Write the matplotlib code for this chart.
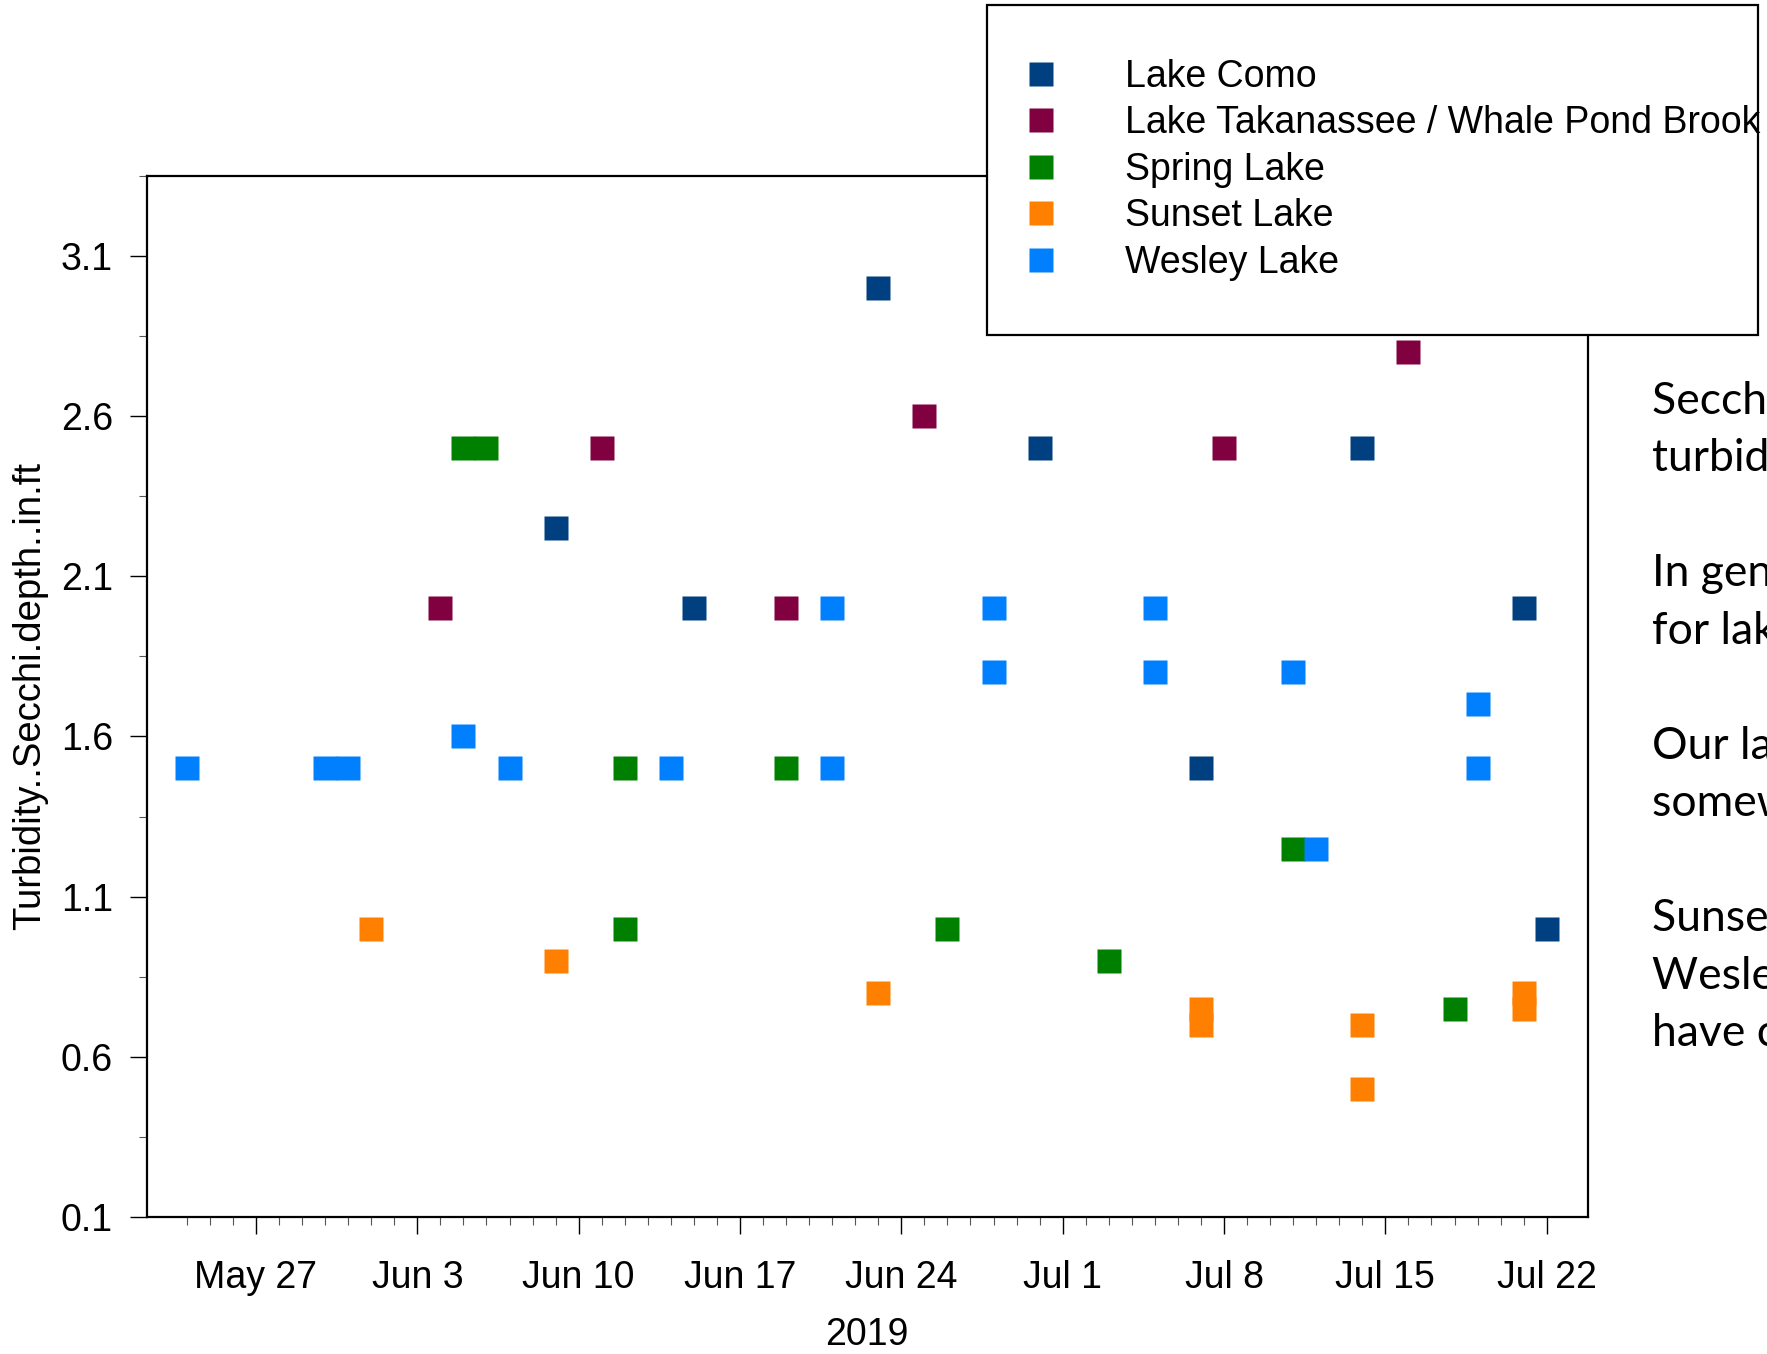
import datetime as dt
import numpy as np
import pandas as pd
import matplotlib
matplotlib.use("Agg")
import matplotlib.pyplot as plt
import matplotlib.dates as mdates
from matplotlib.ticker import MultipleLocator, FixedLocator, FuncFormatter
from matplotlib.lines import Line2D

plt.rcParams['font.family'] = ['Liberation Sans', 'DejaVu Sans']

# Secchi depth readings (ft), 2019
como_dates = ["2019-06-09", "2019-06-15", "2019-06-23", "2019-06-30", "2019-07-07",
              "2019-07-14", "2019-07-21", "2019-07-22"]
como_vals = [2.25, 2.0, 3.0, 2.5, 1.5, 2.5, 2.0, 1.0]

tak_dates = ["2019-06-04", "2019-06-11", "2019-06-19", "2019-06-25", "2019-07-08",
             "2019-07-16"]
tak_vals = [2.0, 2.5, 2.0, 2.6, 2.5, 2.8]

spring_dates = ["2019-06-05", "2019-06-06", "2019-06-12", "2019-06-12", "2019-06-19",
                "2019-06-26", "2019-07-03", "2019-07-11", "2019-07-18"]
spring_vals = [2.5, 2.5, 1.5, 1.0, 1.5, 1.0, 0.9, 1.25, 0.75]

sunset_dates = ["2019-06-01", "2019-06-09", "2019-06-23", "2019-07-07", "2019-07-07",
                "2019-07-14", "2019-07-14", "2019-07-21", "2019-07-21"]
sunset_vals = [1.0, 0.9, 0.8, 0.75, 0.7, 0.7, 0.5, 0.8, 0.75]

wesley_dates = ["2019-05-24", "2019-05-30", "2019-05-31", "2019-06-05", "2019-06-07",
                "2019-06-14", "2019-06-21", "2019-06-21", "2019-06-28", "2019-06-28",
                "2019-07-05", "2019-07-05", "2019-07-11", "2019-07-12", "2019-07-19",
                "2019-07-19"]
wesley_vals = [1.5, 1.5, 1.5, 1.6, 1.5, 1.5, 2.0, 1.5, 2.0, 1.8, 2.0, 1.8, 1.8, 1.25,
               1.7, 1.5]

lake_names = ["Lake Como", "Lake Takanassee / Whale Pond Brook", "Spring Lake",
              "Sunset Lake", "Wesley Lake"]
lake_colors = ["#004080", "#800040", "#008000", "#FF8000", "#0080FF"]

notes = ["Secchi depth is an indicator of",
         "turbidity (water clarity).",
         "",
         "In general, a Secchi depth of 3 ft or more",
         "for lakes indicates good clarity.",
         "",
         "Our lakes range from fairly clear to",
         "somewhat turbid.",
         "",
         "Sunset Lake and",
         "Wesley Lake tend to",
         "have cloudier water."]

W, H = 1767, 1354
fig = plt.figure(figsize=(W / 100, H / 100), dpi=100)
ax = fig.add_axes([146.5 / W, 1 - 1217 / H, 1441.5 / W, (1217 - 175.8) / H])

series = [(como_dates, como_vals), (tak_dates, tak_vals), (spring_dates, spring_vals),
          (sunset_dates, sunset_vals), (wesley_dates, wesley_vals)]
all_dates = []
for (d, v), c in zip(series, lake_colors):
    d = pd.to_datetime(d)
    all_dates.extend(d)
    ax.plot(d, v, ls="none", marker="s", ms=17.3, mfc=c, mec="none")

ax.set_xlim(dt.datetime(2019, 5, 22, 6), dt.datetime(2019, 7, 23, 19))
ax.set_ylim(0.1, 3.35)

ax.xaxis.set_major_locator(mdates.WeekdayLocator(byweekday=mdates.MO))
ax.xaxis.set_major_formatter(FuncFormatter(lambda x, p: f"{mdates.num2date(x):%b} {mdates.num2date(x).day}"))
days = pd.date_range(min(all_dates), max(all_dates), freq="D")
ax.xaxis.set_minor_locator(FixedLocator(mdates.date2num(days.to_pydatetime())))

ax.yaxis.set_major_locator(MultipleLocator(0.5, offset=0.1))
ax.yaxis.set_minor_locator(MultipleLocator(0.25, offset=0.1))
ax.yaxis.set_major_formatter(FuncFormatter(lambda y, p: f"{y:.1f}"))

ax.tick_params(which="major", direction="out", length=12.2, width=1, labelsize=27, pad=12)
ax.tick_params(which="minor", direction="out", length=5.8, width=0.8, color="#555555")
ax.tick_params(axis="x", which="major", pad=19)
for s in ax.spines.values():
    s.set_linewidth(1.6)

ax.set_xlabel("2019", fontsize=27, labelpad=15)
ax.set_ylabel("Turbidity..Secchi.depth..in.ft", fontsize=27.5, labelpad=9)

handles = [Line2D([], [], ls="none", marker="s", ms=17.3, mfc=c, mec="none") for c in lake_colors]
leg = fig.legend(handles, lake_names, loc="upper left",
                 bbox_to_anchor=(987 / W, 0, 771 / W, 1 - 4.5 / H), mode="expand",
                 borderaxespad=0, fontsize=27, frameon=True, fancybox=False,
                 framealpha=1, edgecolor="black", borderpad=1.45, labelspacing=0.28,
                 handlelength=0.0, handletextpad=2.22)
leg.get_frame().set_linewidth(1.6)

for i, line in enumerate(notes):
    y = 413.6 + i * 57.5
    fig.text(1652 / W, 1 - y / H, line, fontsize=32, family="Lato", va="baseline", ha="left")

fig.savefig("out.png", dpi=100)
